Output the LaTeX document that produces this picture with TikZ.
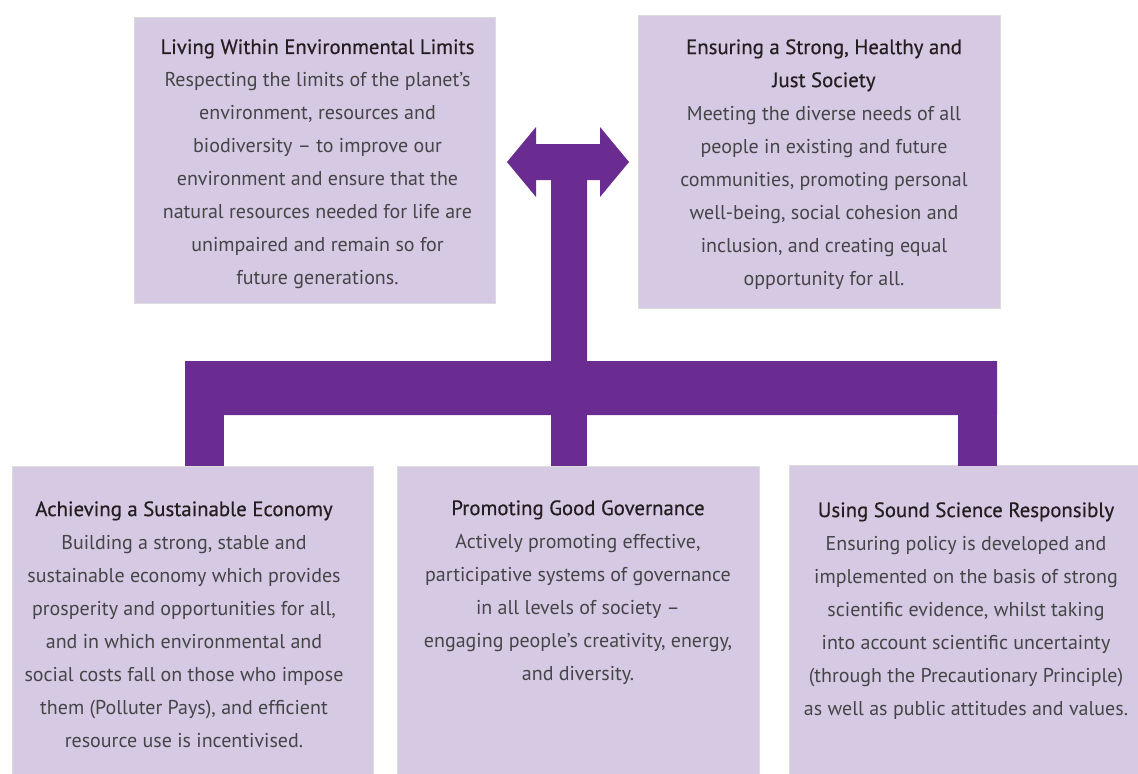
\documentclass[tikz,border=0pt]{standalone}
\usepackage{fontspec}
\setmainfont{PT Sans}
\newfontfamily\headfont{PT Sans}[FakeBold=0.5]
\usetikzlibrary{positioning}
\definecolor{sdpurple}{HTML}{6A2C91}
\definecolor{sdlilac}{HTML}{D5C9E3}
\definecolor{sdedge}{HTML}{DCDCDC}
\definecolor{sdhead}{HTML}{231F20}
\definecolor{sdbody}{HTML}{454547}
\newcommand{\pxl}{0.75pt}
\newcommand{\goalhead}[1]{{\headfont\fontsize{15.6}{24.75}\selectfont\color{sdhead}#1}}
\tikzset{
  goalbox/.style={fill=sdlilac, draw=sdedge, line width=0.75pt, inner sep=0pt, anchor=north west},
  goaltext/.style={align=center, anchor=north, inner sep=0pt, text=sdbody,
    font=\fontsize{15}{24.75}\selectfont},
}
\begin{document}
\begin{tikzpicture}[x=0.75pt,y=-0.75pt]
\useasboundingbox (0,0) rectangle (1138,774);
% the five boxes
\node[goalbox, minimum width=361*\pxl, minimum height=286*\pxl] (envbox) at (134,17) {};
\node[goalbox, minimum width=362*\pxl, minimum height=293*\pxl] (socbox) at (638,15) {};
\node[goalbox, minimum width=361*\pxl, minimum height=308*\pxl] (econbox) at (12,466) {};
\node[goalbox, minimum width=362*\pxl, minimum height=308*\pxl] (govbox) at (397,466) {};
\node[goalbox, minimum width=350*\pxl, minimum height=309*\pxl] (scibox) at (789,465) {};

% the purple arrow and bar
\fill[sdpurple] (507,162) -- (536,127) -- (536,144) -- (600,144) -- (600,127) -- (629,162)
  -- (600,197) -- (600,180) -- (587,180) -- (587,361) -- (997,361) -- (997,415)
  -- (551,415) -- (185,415) -- (185,361) -- (551,361) -- (551,180) -- (536,180)
  -- (536,197) -- cycle;
\foreach \x/\w in {185/39,551/36,958/39} % edit here for the legs
\fill[sdpurple] (\x,414) rectangle (\x+\w,466);

% texts
\node[goaltext] (envtext) at (317.5,39) {\goalhead{Living Within Environmental Limits}\\
Respecting the limits of the planet's\\ environment, resources and\\
biodiversity -- to improve our\\ environment and ensure that the\\
natural resources needed for life are\\ unimpaired and remain so for\\ future generations.};
\node[goaltext] (soctext) at (824,39) {\goalhead{Ensuring a Strong, Healthy and}\\
\goalhead{Just Society}\\ Meeting the diverse needs of all\\ people in existing and future\\
communities, promoting personal\\ well-being, social cohesion and\\
inclusion, and creating equal\\ opportunity for all.};
\node[goaltext] (econtext) at (184,501) {\goalhead{Achieving a Sustainable Economy}\\
Building a strong, stable and\\ sustainable economy which provides\\
prosperity and opportunities for all,\\ and in which environmental and\\
social costs fall on those who impose\\ them (Polluter Pays), and efficient\\
resource use is incentivised.};
\node[goaltext] (govtext) at (578,500) {\goalhead{Promoting Good Governance}\\
Actively promoting effective,\\ participative systems of governance\\
in all levels of society --\\ engaging people's creativity, energy,\\ and diversity.};
\node[goaltext] (scitext) at (966,502) {\goalhead{Using Sound Science Responsibly}\\
Ensuring policy is developed and\\ implemented on the basis of strong\\
scientific evidence, whilst taking\\ into account scientific uncertainty\\
(through the Precautionary Principle)\\ as well as public attitudes and values.};
\end{tikzpicture}
\end{document}
